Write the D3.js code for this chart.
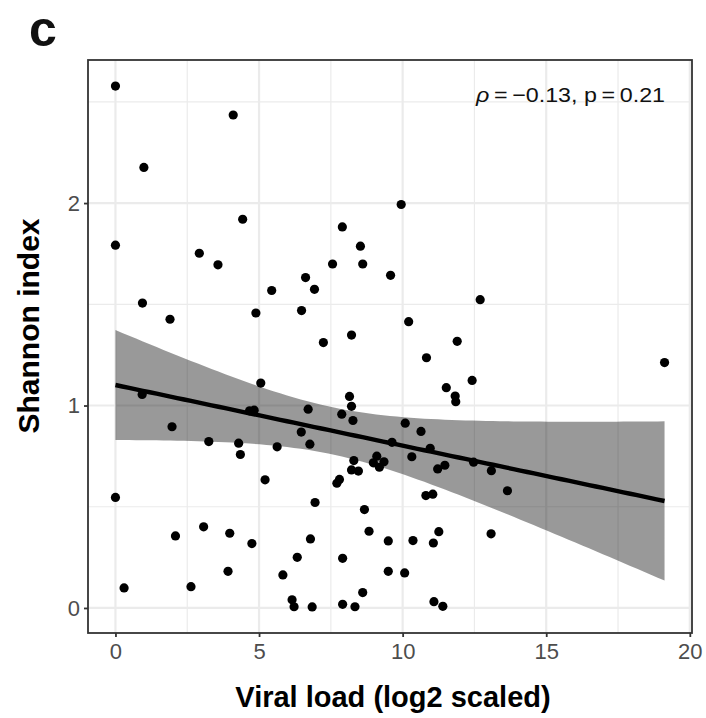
<!DOCTYPE html>
<html>
<head>
<meta charset="utf-8">
<script src="https://cdn.jsdelivr.net/npm/d3@7"></script>
<style>
  body { margin: 0; background: #fff; }
  svg { display: block; font-family: "Liberation Sans", Arial, Helvetica, sans-serif; }
</style>
</head>
<body>
<svg id="chart" width="706" height="718"></svg>
<script>
// viral load (log2) and Shannon index
const viralLoad = [
  0.00, 4.10, 0.99, 9.95, 4.43, 7.90, 0.00, 8.53, 2.92, 3.57,
  7.56, 8.61, 9.58, 6.62, 6.93, 5.44, 0.94, 1.90, 4.89, 6.48,
  7.24, 8.22, 12.70, 10.21, 11.90, 10.83, 19.12, 12.42, 11.52, 11.83,
  11.85, 10.09, 10.64, 9.63, 10.96, 10.32, 11.47, 11.22, 12.47, 13.09,
  13.65, 10.81, 11.05, 11.26, 13.08, 9.50, 10.36, 11.07, 9.50, 10.07,
  11.09, 11.40, 5.06, 0.93, 8.15, 8.22, 4.67, 4.83, 6.71, 7.88,
  8.27, 1.97, 6.47, 3.25, 4.29, 6.77, 5.63, 4.35, 8.30, 9.10,
  8.98, 9.19, 9.35, 8.22, 8.46, 5.21, 7.71, 7.80, 0.00, 6.95,
  8.67, 3.07, 2.09, 3.98, 4.75, 6.79, 8.83, 6.33, 7.91, 3.92,
  5.83, 0.30, 2.63, 8.61, 6.15, 6.22, 6.85, 7.91, 8.34
];
const shannon = [
  2.578, 2.435, 2.176, 1.993, 1.920, 1.882, 1.792, 1.787, 1.752, 1.695,
  1.699, 1.699, 1.643, 1.632, 1.574, 1.568, 1.506, 1.426, 1.457, 1.469,
  1.311, 1.348, 1.523, 1.414, 1.317, 1.236, 1.212, 1.124, 1.088, 1.047,
  1.019, 0.913, 0.872, 0.818, 0.789, 0.747, 0.705, 0.687, 0.720, 0.678,
  0.579, 0.555, 0.562, 0.377, 0.366, 0.331, 0.333, 0.321, 0.181, 0.173,
  0.031, 0.008, 1.111, 1.055, 1.045, 0.996, 0.974, 0.977, 0.982, 0.957,
  0.926, 0.895, 0.869, 0.822, 0.814, 0.809, 0.796, 0.758, 0.728, 0.750,
  0.717, 0.695, 0.722, 0.682, 0.676, 0.633, 0.616, 0.635, 0.546, 0.521,
  0.486, 0.401, 0.356, 0.369, 0.318, 0.341, 0.379, 0.250, 0.245, 0.181,
  0.163, 0.099, 0.105, 0.076, 0.040, 0.006, 0.005, 0.018, 0.006
];
const xMajor = [0, 5, 10, 15, 20];
const xMinor = [2.5, 7.5, 12.5, 17.5];
const yMajor = [0, 1, 2];
const yMinor = [0.5, 1.5, 2.5];
const rhoText = "\u03C1";
const statText = "\u2009=\u2009\u22120.13, p\u2009=\u20090.21";

const svg = d3.select("#chart");
const margin = { left: 88, right: 14, top: 60, bottom: 85 };
const width = 706, height = 718;

function expand(ext, f) {
  const d = (ext[1] - ext[0]) * f;
  return [ext[0] - d, ext[1] + d];
}

const x = d3.scaleLinear()
  .domain(expand(d3.extent(viralLoad), 0.05))
  .range([margin.left, width - margin.right]);
const y = d3.scaleLinear()
  .domain(expand(d3.extent(shannon), 0.05))
  .range([height - margin.bottom, margin.top]);

// linear fit + 95% CI, like geom_smooth(method = "lm")
function linearFit(xs, ys) {
  const n = xs.length;
  const mx = d3.mean(xs), my = d3.mean(ys);
  let sxx = 0, sxy = 0;
  xs.forEach((v, i) => { sxx += (v - mx) ** 2; sxy += (v - mx) * (ys[i] - my); });
  const b = sxy / sxx, a = my - b * mx;
  let sse = 0;
  xs.forEach((v, i) => { sse += (ys[i] - a - b * v) ** 2; });
  const s = Math.sqrt(sse / (n - 2));
  const df = n - 2, z = 1.959964;
  const t = z + (z ** 3 + z) / (4 * df);
  return (v) => {
    const fit = a + b * v;
    const se = s * Math.sqrt(1 / n + (v - mx) ** 2 / sxx);
    return { x: v, fit, lo: fit - t * se, hi: fit + t * se };
  };
}

const predict = linearFit(viralLoad, shannon);
const [xmin, xmax] = d3.extent(viralLoad);
const smooth = d3.range(0, 81).map((i) => predict(xmin + (xmax - xmin) * i / 80));

const panel = svg.append("g");

// grid
function vlines(vals, w) {
  panel.append("g").selectAll("line").data(vals).join("line")
    .attr("x1", (d) => x(d)).attr("x2", (d) => x(d))
    .attr("y1", margin.top).attr("y2", height - margin.bottom)
    .attr("stroke", "#ebebeb").attr("stroke-width", w);
}
function hlines(vals, w) {
  panel.append("g").selectAll("line").data(vals).join("line")
    .attr("y1", (d) => y(d)).attr("y2", (d) => y(d))
    .attr("x1", margin.left).attr("x2", width - margin.right)
    .attr("stroke", "#ebebeb").attr("stroke-width", w);
}
vlines(xMinor, 1.2);
hlines(yMinor, 1.2);
vlines(xMajor, 2.2);
hlines(yMajor, 2.2);

// ribbon
panel.append("path")
  .datum(smooth)
  .attr("fill", "#000")
  .attr("fill-opacity", 0.4)
  .attr("d", d3.area().x((d) => x(d.x)).y0((d) => y(d.lo)).y1((d) => y(d.hi)));

// points
panel.append("g").selectAll("circle").data(viralLoad).join("circle")
  .attr("cx", (d) => x(d))
  .attr("cy", (d, i) => y(shannon[i]))
  .attr("r", 4.6)
  .attr("fill", "#000");

// fit line
panel.append("path")
  .datum(smooth)
  .attr("fill", "none")
  .attr("stroke", "#000")
  .attr("stroke-width", 4.4)
  .attr("d", d3.line().x((d) => x(d.x)).y((d) => y(d.fit)));

// border
svg.append("rect")
  .attr("x", margin.left).attr("y", margin.top)
  .attr("width", width - margin.left - margin.right)
  .attr("height", height - margin.top - margin.bottom)
  .attr("fill", "none").attr("stroke", "#333").attr("stroke-width", 1.8);

// axes
const xAxis = svg.append("g")
  .attr("transform", `translate(0,${height - margin.bottom})`)
  .call(d3.axisBottom(x).tickValues(xMajor).tickSize(4).tickPadding(6));
const yAxis = svg.append("g")
  .attr("transform", `translate(${margin.left},0)`)
  .call(d3.axisLeft(y).tickValues(yMajor).tickFormat(d3.format("d")).tickSize(4).tickPadding(4));
[xAxis, yAxis].forEach((g) => {
  g.select(".domain").remove();
  g.selectAll(".tick line").attr("stroke", "#333").attr("stroke-width", 1.8);
  g.selectAll(".tick text")
    .attr("fill", "#4d4d4d")
    .style("font-size", "22px")
    .style("font-family", "'Liberation Sans', Arial, sans-serif");
});

// titles
svg.append("text")
  .attr("x", 393).attr("y", 707)
  .attr("text-anchor", "middle")
  .style("font-size", "29px").style("font-weight", "bold")
  .text("Viral load (log2 scaled)");
svg.append("text")
  .attr("transform", "translate(39,326) rotate(-90)")
  .attr("text-anchor", "middle")
  .style("font-size", "30px").style("font-weight", "bold")
  .text("Shannon index");
svg.append("text")
  .attr("x", 29).attr("y", 45.5)
  .style("font-size", "50px").style("font-weight", "bold")
  .attr("fill", "#111")
  .text("c");

// correlation annotation
const stat = svg.append("text")
  .attr("x", 476).attr("y", 102)
  .attr("textLength", 189)
  .attr("lengthAdjust", "spacingAndGlyphs")
  .style("font-size", "21px")
  .attr("fill", "#111");
stat.append("tspan").style("font-style", "italic").text(rhoText);
stat.append("tspan").text(statText);
</script>
</body>
</html>
